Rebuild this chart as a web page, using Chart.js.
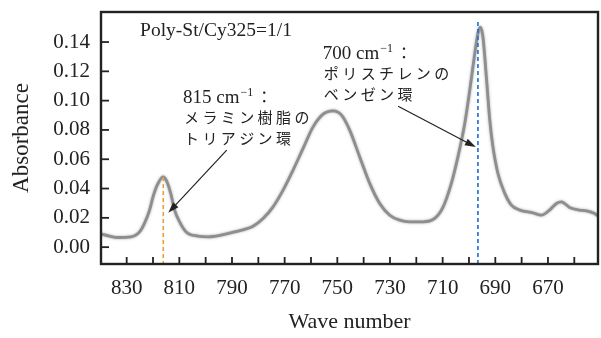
<!DOCTYPE html>
<html>
<head>
<meta charset="utf-8">
<script src="https://cdn.jsdelivr.net/npm/chart.js@4.4.1/dist/chart.umd.min.js"></script>
<style>
  html, body { margin: 0; padding: 0; background: #fff; }
</style>
</head>
<body>
<canvas id="myChart" width="601" height="338"></canvas>
<script>
// spectrum (wave number, absorbance)
const waveNumbers = [
  840, 836.5, 833.3, 828.4, 825.1, 823.2, 821.3, 820.0, 818.4, 816.2,
  815.0, 813.3, 811.8, 809.9, 807.4, 802.9, 799.1, 794.1, 789.0, 784.0,
  782.0, 778.2, 774.4, 770.6, 766.8, 763.0, 759.2, 755.4, 751.6, 748.4,
  745.3, 741.5, 737.7, 733.9, 730.1, 726.3, 722.5, 717.4, 713.0, 709.8,
  706.7, 704.2, 701.6, 699.7, 697.8, 696.6, 695.7, 694.7, 693.4, 692.1,
  690.9, 689.0, 686.4, 683.9, 680.7, 675.7, 672.5, 669.4, 666.8, 664.9,
  661.8, 658.0, 655.4, 652.3, 651.0
]
const absorbance = [
  0.0090, 0.0075, 0.0066, 0.0070, 0.0104, 0.0164, 0.0253, 0.0343, 0.0423, 0.0480,
  0.0457, 0.0369, 0.0253, 0.0173, 0.0104, 0.0075, 0.0070, 0.0082, 0.0104, 0.0128,
  0.0143, 0.0196, 0.0275, 0.0389, 0.0526, 0.0674, 0.0821, 0.0908, 0.0930, 0.0901,
  0.0799, 0.0616, 0.0435, 0.0298, 0.0218, 0.0184, 0.0173, 0.0173, 0.0196, 0.0275,
  0.0435, 0.0616, 0.0844, 0.1072, 0.1322, 0.1459, 0.1502, 0.1435, 0.1162, 0.0867,
  0.0685, 0.0503, 0.0367, 0.0287, 0.0253, 0.0234, 0.0218, 0.0253, 0.0298, 0.0309,
  0.0271, 0.0253, 0.0248, 0.0230, 0.0212
]
const xTickValues = [830, 820, 810, 800, 790, 780, 770, 760, 750, 740, 730, 720, 710, 700, 690, 680, 670, 660]
const yTickValues = [0, 0.02, 0.04, 0.06, 0.08, 0.10, 0.12, 0.14]

// marker lines: [wave number, top absorbance]
const melamineLine = [816.1, 0.0478]
const styreneLine = [696.6, 0.1536]

// annotations, anchored in data units
const sampleLabel = 'Poly-St/Cy325=1/1'
const melamineNote = { at: [808.6, 0.1024], num: '815 cm', lines: ['メラミン樹脂の', 'トリアジン環'], tail: [792.0, 0.0662], tip: [814.2, 0.0234] }
const styreneNote = { at: [755.5, 0.1324], num: '700 cm', lines: ['ポリスチレンの', 'ベンゼン環'], tail: [726.9, 0.0962], tip: [697.4, 0.0683] }

const serif = '"Liberation Serif", "Times New Roman", serif'
const jp = '"Noto Sans CJK JP", sans-serif'

function arrow(c, x1, y1, x2, y2) {
  const ang = Math.atan2(y2 - y1, x2 - x1)
  const len = 11, hw = 3.6
  c.beginPath()
  c.moveTo(x1, y1)
  c.lineTo(x2 - Math.cos(ang) * len * 0.8, y2 - Math.sin(ang) * len * 0.8)
  c.stroke()
  c.beginPath()
  c.moveTo(x2, y2)
  c.lineTo(x2 - Math.cos(ang) * len - Math.sin(ang) * hw, y2 - Math.sin(ang) * len + Math.cos(ang) * hw)
  c.lineTo(x2 - Math.cos(ang) * len + Math.sin(ang) * hw, y2 - Math.sin(ang) * len - Math.cos(ang) * hw)
  c.closePath()
  c.fill()
}

function drawNote(c, xs, ys, note) {
  let x = xs.getPixelForValue(note.at[0])
  let y = ys.getPixelForValue(note.at[1])
  c.textBaseline = 'alphabetic'
  c.textAlign = 'left'
  c.letterSpacing = '0px'
  c.font = '19px ' + serif
  c.fillText(note.num, x, y + 6)
  let w = c.measureText(note.num).width
  c.font = '12px ' + serif
  c.fillText('\u22121', x + w + 1, y - 1)
  w += c.measureText('\u22121').width + 4
  c.font = '16px ' + jp
  c.fillText('：', x + w, y + 6)
  c.letterSpacing = '3.4px'
  c.font = '15px ' + jp
  note.lines.forEach((t, i) => c.fillText(t, x + 1, y + 26 + i * 20.5))
  c.letterSpacing = '0px'
  c.lineWidth = 1.2
  arrow(c, xs.getPixelForValue(note.tail[0]), ys.getPixelForValue(note.tail[1]),
    xs.getPixelForValue(note.tip[0]), ys.getPixelForValue(note.tip[1]))
}

const decorPlugin = {
  id: 'decor',
  beforeDatasetDraw(chart) {
    chart.ctx.save()
    chart.ctx.shadowColor = 'rgba(90,90,90,0.55)'
    chart.ctx.shadowBlur = 2.5
  },
  afterDatasetDraw(chart) {
    chart.ctx.restore()
  },
  afterDraw(chart) {
    const c = chart.ctx
    const a = chart.chartArea
    const xs = chart.scales.x
    const ys = chart.scales.y
    c.save()

    // dashed marker lines
    c.lineWidth = 1.6
    c.setLineDash([4, 3])
    c.strokeStyle = '#f29a3a'
    let px = xs.getPixelForValue(melamineLine[0])
    c.beginPath(); c.moveTo(px, ys.getPixelForValue(melamineLine[1])); c.lineTo(px, a.bottom); c.stroke()
    c.strokeStyle = '#1a6fd1'
    px = xs.getPixelForValue(styreneLine[0])
    c.beginPath(); c.moveTo(px, ys.getPixelForValue(styreneLine[1])); c.lineTo(px, a.bottom); c.stroke()
    c.setLineDash([])

    // frame
    c.strokeStyle = '#222'
    c.lineWidth = 2.4
    c.strokeRect(a.left, a.top, a.right - a.left, a.bottom - a.top)

    // inward ticks
    c.lineWidth = 1.8
    xTickValues.forEach(v => {
      const x = xs.getPixelForValue(v)
      c.beginPath(); c.moveTo(x, a.bottom); c.lineTo(x, a.bottom - 7); c.stroke()
    })
    yTickValues.forEach(v => {
      const y = ys.getPixelForValue(v)
      c.beginPath(); c.moveTo(a.left, y); c.lineTo(a.left + 8, y); c.stroke()
    })

    // texts and arrows
    c.fillStyle = '#222'
    c.strokeStyle = '#222'
    c.font = '19.5px ' + serif
    c.textBaseline = 'middle'
    c.fillText(sampleLabel, xs.getPixelForValue(824.9), ys.getPixelForValue(0.1474))
    drawNote(c, xs, ys, melamineNote)
    drawNote(c, xs, ys, styreneNote)
    c.restore()
  }
}

const points = waveNumbers.map((w, i) => ({ x: w, y: absorbance[i] }))

new Chart(document.getElementById('myChart'), {
  type: 'line',
  data: {
    datasets: [{
      data: points,
      borderColor: '#8e8e8e',
      borderWidth: 2.8,
      pointRadius: 0,
      fill: false,
      cubicInterpolationMode: 'monotone'
    }]
  },
  options: {
    responsive: false,
    animation: false,
    layout: { padding: { top: 12, right: 3, left: 0, bottom: 0 } },
    plugins: {
      legend: { display: false },
      tooltip: { enabled: false }
    },
    scales: {
      x: {
        type: 'linear',
        reverse: true,
        min: 651,
        max: 839.75,
        grid: { display: false, drawTicks: false },
        border: { display: false },
        afterBuildTicks: s => { s.ticks = xTickValues.map(v => ({ value: v })) },
        afterFit: s => { s.height = 74; s.paddingLeft = 0; s.paddingRight = 0 },
        ticks: {
          autoSkip: false,
          maxRotation: 0,
          padding: 12,
          color: '#222',
          font: { family: serif, size: 21 },
          callback: v => (v % 20 === 10 ? String(v) : '')
        },
        title: {
          display: true,
          text: 'Wave number',
          color: '#222',
          font: { family: serif, size: 22 },
          padding: { top: 0, bottom: 3 }
        }
      },
      y: {
        min: -0.0115,
        max: 0.1605,
        grid: { display: false, drawTicks: false },
        border: { display: false },
        afterBuildTicks: s => { s.ticks = yTickValues.map(v => ({ value: v })) },
        afterFit: s => { s.width = 101; s.paddingTop = 0; s.paddingBottom = 0 },
        ticks: {
          padding: 11,
          color: '#222',
          font: { family: serif, size: 21 },
          callback: v => v.toFixed(2)
        },
        title: {
          display: true,
          text: 'Absorbance',
          color: '#222',
          font: { family: serif, size: 23 },
          padding: { top: 8, bottom: 0 }
        }
      }
    }
  },
  plugins: [decorPlugin]
})
</script>
</body>
</html>
